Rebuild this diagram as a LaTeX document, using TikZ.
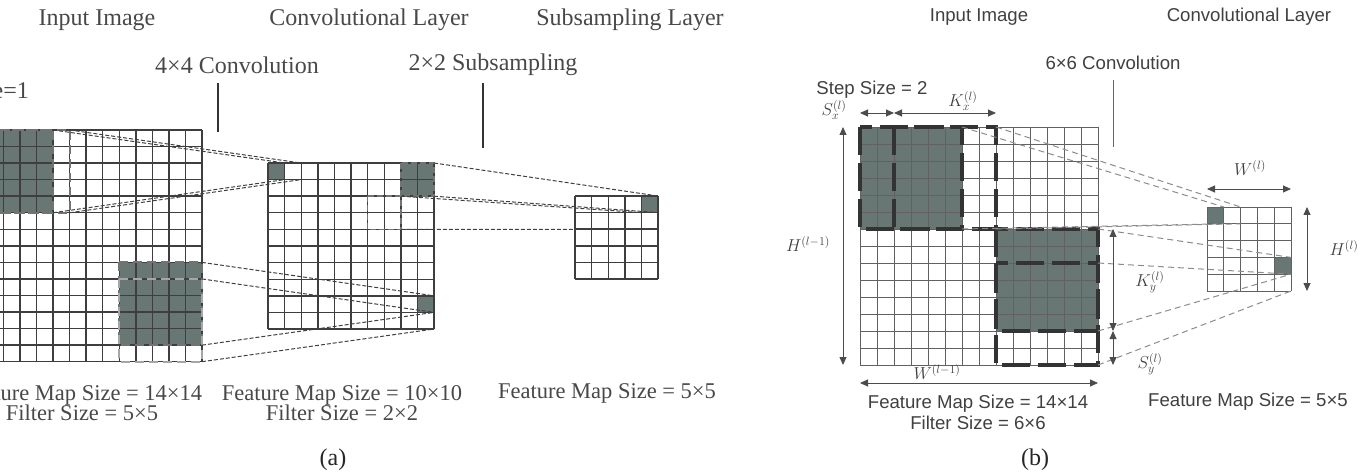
\documentclass[tikz,border=0pt]{standalone}
\usepackage{fontspec}
\setmainfont{Liberation Serif}
\newfontfamily\arialfont{Liberation Sans}
\usepackage{tikz}
\usetikzlibrary{arrows.meta,positioning}
\definecolor{filtgray}{RGB}{104,118,116}
\definecolor{gridgray}{RGB}{62,62,62}
\definecolor{txtgray}{RGB}{72,72,72}
\tikzset{
  gridA/.style={gridgray,line width=1.4pt},
  gridB/.style={black!62,line width=0.9pt},
  filt/.style={fill=filtgray,inner sep=0pt,outer sep=0pt,anchor=north west},
  win/.style={inner sep=0pt,outer sep=0pt,anchor=north west},
  boxA/.style={draw=black!55,line width=2pt,dash pattern=on 9pt off 5pt},
  boxB/.style={draw=black!80,line width=3.5pt,dash pattern=on 28pt off 8pt},
  projA/.style={black!75,line width=1pt,dash pattern=on 4pt off 2pt},
  projB/.style={black!45,line width=1pt,dash pattern=on 6pt off 4pt},
  callA/.style={black!80,line width=1.2pt},
  callB/.style={black!60,line width=1pt},
  dim/.style={{Triangle[length=8pt,width=7pt]}-{Triangle[length=8pt,width=7pt]},black!70,line width=0.9pt},
  labA/.style={text=txtgray,font=\fontsize{24}{20.5}\selectfont,align=center,inner sep=0pt},
  sizeA/.style={labA,font=\fontsize{22.5}{20.5}\selectfont},
  labB/.style={text=black!75,font=\arialfont\fontsize{18.6}{21}\selectfont,align=center,inner sep=0pt},
  mathB/.style={text=black!75,font=\fontsize{18}{18}\selectfont,inner sep=0pt}
}
\begin{document}
\begin{tikzpicture}[x=1pt,y=-1pt]
\useasboundingbox (0,0) rectangle (1360,473);
\clip (0,0) rectangle (1360,473);

%% ---------------- (a) ----------------
% input image 14x14
\node[filt,minimum width=82.75pt,minimum height=82.75pt] (fA1) at (-29.7,130) {};
\node[filt,minimum width=82.75pt,minimum height=82.75pt] (fA2) at (119.25,262.4) {};
\foreach \i in {0,...,14}{
  \draw[gridA] ({-29.7+16.55*\i},130) -- ({-29.7+16.55*\i},361.7);
  \draw[gridA] (-29.7,{130+16.55*\i}) -- (202,{130+16.55*\i});
}
\node[win,minimum width=82.75pt,minimum height=82.75pt] (sA1) at (-13.15,130) {};
\node[win,minimum width=82.75pt,minimum height=82.75pt] (sA2) at (119.25,278.95) {};
\draw[boxA] (fA1.north west) rectangle (fA1.south east);
\draw[boxA] (sA1.north west) rectangle (sA1.south east);
\draw[boxA] (fA2.north west) rectangle (fA2.south east);
\draw[boxA,draw=black!35] (sA2.north west) rectangle (sA2.south east);

% convolutional layer 10x10
\node[filt,minimum size=16.6pt] (cA00) at (268,163) {};
\node[filt,minimum size=33.2pt] (pA1) at (400.8,163) {};
\node[filt,minimum size=16.6pt] (cA98) at (417.4,295.8) {};
\foreach \i in {0,...,10}{
  \draw[gridA] ({268+16.6*\i},163) -- ({268+16.6*\i},329);
  \draw[gridA] (268,{163+16.6*\i}) -- (434,{163+16.6*\i});
}
\node[win,minimum size=33.2pt] (pA2) at (367.6,196.2) {};
\draw[boxA,line width=1.6pt,dash pattern=on 6pt off 3pt] (pA1.north west) rectangle (pA1.south east);
\draw[boxA,line width=1.6pt,dash pattern=on 6pt off 3pt] (pA2.north west) rectangle (pA2.south east);
\coordinate (cA10ne) at (301.2,163);
\coordinate (cA10se) at (301.2,179.6);

% subsampling layer 5x5
\node[filt,minimum size=16.6pt] (sbA40) at (641.4,196) {};
\foreach \i in {0,...,5}{
  \draw[gridA] ({575+16.6*\i},196) -- ({575+16.6*\i},279);
  \draw[gridA] (575,{196+16.6*\i}) -- (658,{196+16.6*\i});
}
\coordinate (sbA31ne) at (641.4,212.6);
\coordinate (sbA31se) at (641.4,229.2);

% projections
\draw[projA] (fA1.north east) -- (cA00.north east);
\draw[projA] (fA1.south east) -- (cA00.south east);
\draw[projA] (sA1.north east) -- (cA10ne);
\draw[projA] (sA1.south east) -- (cA10se);
\draw[projA] (fA2.north east) -- (cA98.north east);
\draw[projA] (fA2.south east) -- (cA98.south east);
\draw[projA] (sA2.north east) -- (cA98.south east);
\draw[projA] (sA2.south east) -- (434,329);
\draw[projA] (pA1.north east) -- (sbA40.north east);
\draw[projA] (pA1.south east) -- (sbA40.south east);
\draw[projA] (pA2.north east) -- (sbA31ne);
\draw[projA] (pA2.south east) -- (sbA31se);

% labels
\node[labA] (tInA) at (97,20) {Input Image};
\node[labA] (tConvA) at (369,20) {Convolutional Layer};
\node[labA] (tSubA) at (630,20) {Subsampling Layer};
\node[labA] (tK4) at (237,65) {4×4 Convolution};
\node[labA] (tP2) at (493,65) {2×2 Subsampling};
\node[labA,anchor=east] (tStepA) at (29,93) {Step Size=1};
\coordinate (k4a) at (218,83);  \coordinate (k4b) at (218,132);
\coordinate (p2a) at (483,83);  \coordinate (p2b) at (483,148);
\draw[callA] (k4a) -- (k4b);
\draw[callA] (p2a) -- (p2b);
\node[sizeA] (tSzA1) at (82,403) {Feature Map Size = 14×14\\Filter Size = 5×5};
\node[sizeA] (tSzA2) at (342,403) {Feature Map Size = 10×10\\Filter Size = 2×2};
\node[sizeA] (tSzA3) at (607,393) {Feature Map Size = 5×5};
\node[labA,text=black!85] (capA) at (333,460) {(a)};

%% ---------------- (b) ----------------
% input image 14x14
\node[filt,minimum size=102pt] (fB1) at (860,127) {};
\node[filt,minimum size=102pt] (fB2) at (996,229) {};
\foreach \i in {0,...,14}{
  \draw[gridB] ({860+17*\i},127) -- ({860+17*\i},365);
  \draw[gridB] (860,{127+17*\i}) -- (1098,{127+17*\i});
}
\node[win,minimum size=102pt] (sB1) at (894,127) {};
\node[win,minimum size=102pt] (sB2) at (996,263) {};
\draw[boxB] (fB1.north west) rectangle (fB1.south east);
\draw[boxB] (sB1.north west) rectangle (sB1.south east);
\draw[boxB] (fB2.north west) rectangle (fB2.south east);
\draw[boxB] (sB2.north west) rectangle (sB2.south east);

% convolutional layer 5x5
\node[filt,minimum size=16.8pt] (cB00) at (1207,207) {};
\node[filt,minimum size=16.8pt] (cB43) at (1274.2,257.4) {};
\foreach \i in {0,...,5}{
  \draw[gridB] ({1207+16.8*\i},207) -- ({1207+16.8*\i},291);
  \draw[gridB] (1207,{207+16.8*\i}) -- (1291,{207+16.8*\i});
}
\coordinate (cB10ne) at (1240.6,207);
\coordinate (cB10se) at (1240.6,223.8);
\coordinate (cB44se) at (1291,291);

% projections
\draw[projB] (fB1.north east) -- (cB00.north east);
\draw[projB] (sB1.north east) -- (cB10ne);
\draw[projB] (fB1.south east) -- (cB00.south east);
\draw[projB] (sB1.south east) -- (cB10se);
\draw[projB] (fB2.north east) -- (cB43.north east);
\draw[projB] (fB2.south east) -- (cB43.south east);
\draw[projB] (sB2.north east) -- (cB43.south east);
\draw[projB] (sB2.south east) -- (cB44se);

% dimensions
\coordinate (sx0) at (860,113); \coordinate (sx1) at (894,113); \coordinate (kx1) at (996,113);
\coordinate (hA) at (843,127);  \coordinate (hB) at (843,365);
\coordinate (wA) at (860,383);  \coordinate (wB) at (1098,383);
\coordinate (ky0) at (1113,229); \coordinate (ky1) at (1113,331); \coordinate (sy1) at (1113,365);
\coordinate (wlA) at (1207,189); \coordinate (wlB) at (1291,189);
\coordinate (hlA) at (1307,207); \coordinate (hlB) at (1307,291);
\draw[dim] (sx0) -- (sx1);
\draw[dim] (sx1) -- (kx1);
\draw[dim] (hA) -- (hB);
\draw[dim] (wA) -- (wB);
\draw[dim] (ky0) -- (ky1);
\draw[dim] (ky1) -- (sy1);
\draw[dim] (wlA) -- (wlB);
\draw[dim] (hlA) -- (hlB);

\node[mathB] (lSx) at (834,110) {$S_x^{(l)}$};
\node[mathB] (lKx) at (963,101) {$K_x^{(l)}$};
\node[mathB] (lH0) at (808,244) {$H^{(l-1)}$};
\node[mathB] (lW0) at (937,372) {$W^{(l-1)}$};
\node[mathB] (lKy) at (1150,282) {$K_y^{(l)}$};
\node[mathB] (lSy) at (1150,364) {$S_y^{(l)}$};
\node[mathB] (lW1) at (1250,168) {$W^{(l)}$};
\node[mathB] (lH1) at (1344,248) {$H^{(l)}$};

% labels
\node[labB] (tInB) at (979,17) {Input Image};
\node[labB] (tConvB) at (1249,17) {Convolutional Layer};
\node[labB] (tK6) at (1113,63) {6×6 Convolution};
\node[labB] (tStepB) at (872,90) {Step Size = 2};
\coordinate (k6a) at (1113,80); \coordinate (k6b) at (1113,147);
\draw[callB] (k6a) -- (k6b);
\node[labB] (tSzB1) at (978,412.5) {Feature Map Size = 14×14\\Filter Size = 6×6};
\node[labB] (tSzB2) at (1248,402) {Feature Map Size = 5×5};
\node[labA,text=black!85] (capB) at (1035,460) {(b)};
\end{tikzpicture}
\end{document}
